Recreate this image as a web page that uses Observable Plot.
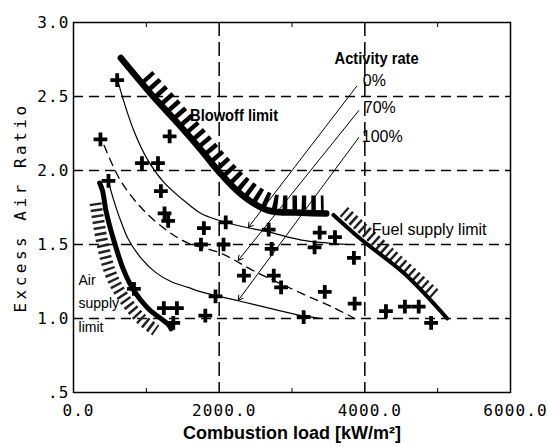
<!DOCTYPE html>
<html>
<head>
<meta charset="utf-8">
<script src="https://cdn.jsdelivr.net/npm/d3@7"></script>
<script src="https://cdn.jsdelivr.net/npm/@observablehq/plot@0.6"></script>
<style>
  html, body { margin: 0; padding: 0; background: #fff; }
  #chart svg { display: block; }
  [aria-label="y-axis tick label"] text, [aria-label="x-axis tick label"] text { letter-spacing: 1.1px; }
</style>
</head>
<body>
<div id="chart"></div>
<script>
// ---- axis ticks ----
const xTicks = [0, 2000, 4000, 6000];
const xTickLabels = ["0.0", "2000.0", "4000.0", "6000.0"];
const yTicks = [0.5, 1.0, 1.5, 2.0, 2.5, 3.0];
const yTickLabels = [".5", "1.0", "1.5", "2.0", "2.5", "3.0"];
const xMinorTicks = [1000, 3000, 5000];
const xGrid = [2000, 4000];
const yGrid = [1.0, 1.5, 2.0, 2.5];

// ---- measured points (+) ----
const pointX = [600, 370, 1320, 940, 1160, 480, 1200, 1250, 1300, 1790, 2090, 1750, 2060, 2680, 2720, 3310, 3380, 3590, 3850,
                2340, 2750, 2850, 3450, 3860, 1950, 1810, 830, 1240, 1420, 1370, 3160, 4290, 4550, 4740, 4910];
const pointY = [2.61, 2.21, 2.23, 2.05, 2.05, 1.93, 1.86, 1.71, 1.66, 1.61, 1.65, 1.50, 1.50, 1.60, 1.47, 1.48, 1.58, 1.55, 1.41,
                1.29, 1.29, 1.21, 1.18, 1.10, 1.15, 1.02, 1.20, 1.07, 1.07, 0.97, 1.01, 1.05, 1.08, 1.08, 0.97];

// ---- limit curves ----
const blowoffX = [650, 1060, 1430, 1750, 2000, 2300, 2670, 3130, 3470];
const blowoffY = [2.76, 2.52, 2.32, 2.14, 1.99, 1.84, 1.73, 1.715, 1.71];
const blowoffHatchX = [1000, 1505, 1822, 2070, 2360, 2710, 3130, 3434];
const blowoffHatchY = [2.636, 2.359, 2.177, 2.035, 1.893, 1.790, 1.777, 1.777];

const fuelX = [3570, 3960, 4550, 5130];
const fuelY = [1.70, 1.53, 1.30, 1.00];
const fuelHatchX = [3710, 4344, 4978];
const fuelHatchY = [1.723, 1.44, 1.155];

const airX = [359, 400, 445, 552, 690, 827, 1020, 1300, 1340];
const airY = [1.915, 1.86, 1.73, 1.53, 1.325, 1.19, 1.07, 0.96, 0.93];
const airHatchX = [303, 400, 510, 676, 924, 1131];
const airHatchY = [1.78, 1.50, 1.304, 1.149, 1.0, 0.919];

// ---- activity-rate curves ----
const rate0X = [607, 676, 827, 1020, 1241, 1570, 1751, 2200, 2675, 3130, 3780];
const rate0Y = [2.61, 2.49, 2.27, 2.07, 1.92, 1.775, 1.71, 1.635, 1.585, 1.53, 1.50];
const rate70X = [420, 648, 965, 1296, 1572, 2027, 2482, 3130, 3586, 3862];
const rate70Y = [2.17, 1.93, 1.73, 1.59, 1.51, 1.44, 1.32, 1.17, 1.07, 1.00];
const rate100X = [483, 552, 648, 758, 924, 1131, 1338, 1572, 1751, 2261, 2855, 3130, 3406];
const rate100Y = [1.92, 1.80, 1.66, 1.53, 1.41, 1.31, 1.25, 1.21, 1.18, 1.12, 1.05, 1.02, 1.00];

// ---- leader arrows ----
const arrowX1 = [3889, 3917, 3917];
const arrowY1 = [2.57, 2.405, 2.223];
const arrowX2 = [2400, 2261, 2261];
const arrowY2 = [1.615, 1.392, 1.122];

// ---- annotations ----
const boldLabels = ["Blowoff limit", "Activity rate"];
const boldLabelX = [1600, 3585];
const boldLabelY = [2.372, 2.757];
const rateLabels = ["0%", "70%", "100%"];
const rateLabelX = [3972, 3985, 3958];
const rateLabelY = [2.608, 2.426, 2.23];
const fuelLabel = ["Fuel supply limit"];
const fuelLabelX = [4096];
const fuelLabelY = [1.60];
const airLabels = ["Air", "supply", "limit"];
const airLabelX = [69, 69, 69];
const airLabelY = [1.257, 1.101, 0.939];
const xTitle = ["Combustion load [kW/m²]"];
const yTitle = ["Excess Air Ratio"];
// condensed widths (px) of the narrow-set bold labels
const condensedText = ["Blowoff limit", "Activity rate"];
const condensedWidth = [88, 84];

const rows = (xs, ys) => xs.map((x, i) => ({x, y: ys[i]}));
const mono = "'DejaVu Sans Mono', 'Liberation Mono', monospace";
const sans = "'Liberation Sans', Arial, sans-serif";

const arrows = arrowX1.map((x1, i) => ({x1, y1: arrowY1[i], x2: arrowX2[i], y2: arrowY2[i]}));
const lbl = (t, xs, ys) => t.map((text, i) => ({text, x: xs[i], y: ys[i]}));

const chart = Plot.plot({
  width: 548,
  height: 447,
  marginLeft: 73,
  marginRight: 38,
  marginTop: 22,
  marginBottom: 55,
  style: {background: "#fff", color: "#000", fontFamily: sans},
  x: {domain: [0, 6000]},
  y: {domain: [0.5, 3.0]},
  marks: [
    // grid
    Plot.ruleX(xGrid, {stroke: "#000", strokeWidth: 1.5, strokeDasharray: "14,6"}),
    Plot.ruleY(yGrid, {stroke: "#000", strokeWidth: 1.5, strokeDasharray: "10,6"}),
    // hatching
    Plot.line(rows(blowoffHatchX, blowoffHatchY), {x: "x", y: "y", curve: "catmull-rom", stroke: "#000", strokeWidth: 16, strokeDasharray: "4.5,5", strokeLinecap: "butt"}),
    Plot.line(rows(fuelHatchX, fuelHatchY), {x: "x", y: "y", curve: "catmull-rom", stroke: "#222", strokeWidth: 12, strokeDasharray: "2.5,3.5", strokeLinecap: "butt"}),
    Plot.line(rows(airHatchX, airHatchY), {x: "x", y: "y", curve: "catmull-rom", stroke: "#222", strokeWidth: 12, strokeDasharray: "2.5,3.5", strokeLinecap: "butt"}),
    // limit lines
    Plot.line(rows(blowoffX, blowoffY), {x: "x", y: "y", curve: "catmull-rom", stroke: "#000", strokeWidth: 6.5, strokeLinecap: "round"}),
    Plot.line(rows(fuelX, fuelY), {x: "x", y: "y", curve: "catmull-rom", stroke: "#000", strokeWidth: 4}),
    Plot.line(rows(airX, airY), {x: "x", y: "y", curve: "catmull-rom", stroke: "#000", strokeWidth: 5, strokeLinecap: "round"}),
    // activity-rate curves
    Plot.line(rows(rate0X, rate0Y), {x: "x", y: "y", curve: "catmull-rom", stroke: "#000", strokeWidth: 1.2}),
    Plot.line(rows(rate70X, rate70Y), {x: "x", y: "y", curve: "catmull-rom", stroke: "#000", strokeWidth: 1.3, strokeDasharray: "8,6"}),
    Plot.line(rows(rate100X, rate100Y), {x: "x", y: "y", curve: "catmull-rom", stroke: "#000", strokeWidth: 1.2}),
    // arrows
    Plot.arrow(arrows, {x1: "x1", y1: "y1", x2: "x2", y2: "y2", stroke: "#000", strokeWidth: 1, headLength: 8}),
    // points
    Plot.dot(rows(pointX, pointY), {x: "x", y: "y", symbol: "plus", r: 4.5, stroke: "#000", strokeWidth: 3.8}),
    // frame and axes
    Plot.frame({stroke: "#000", strokeWidth: 1.5}),
    Plot.axisX({ticks: xTicks, tickFormat: d => xTickLabels[xTicks.indexOf(d)], tickSize: 0, tickPadding: 12, dx: 5, label: null, fontFamily: mono, fontSize: 16}),
    Plot.axisY({ticks: yTicks, tickFormat: d => yTickLabels[yTicks.indexOf(d)], tickSize: 0, tickPadding: 4, label: null, fontFamily: mono, fontSize: 16}),
    Plot.axisX({ticks: xMinorTicks, anchor: "bottom", tickSize: -4, tickFormat: () => "", label: null}),
    Plot.axisX({ticks: xMinorTicks, anchor: "top", tickSize: -4, tickFormat: () => "", label: null}),
    // titles
    Plot.text(xTitle, {frameAnchor: "bottom", dy: 46, fontSize: 18, fontWeight: "bold", fontFamily: sans}),
    Plot.text(yTitle, {frameAnchor: "left", textAnchor: "middle", dx: -53, rotate: -90, fontSize: 16, fontFamily: mono}),
    // annotations
    Plot.text(lbl(boldLabels, boldLabelX, boldLabelY), {x: "x", y: "y", text: "text", textAnchor: "start", fontSize: 16, fontWeight: "bold", fontFamily: sans}),
    Plot.text(lbl(rateLabels, rateLabelX, rateLabelY), {x: "x", y: "y", text: "text", textAnchor: "start", fontSize: 16, fontFamily: sans}),
    Plot.text(lbl(fuelLabel, fuelLabelX, fuelLabelY), {x: "x", y: "y", text: "text", textAnchor: "start", fontSize: 16, fontFamily: sans}),
    Plot.text(lbl(airLabels, airLabelX, airLabelY), {x: "x", y: "y", text: "text", textAnchor: "start", fontSize: 14, fontFamily: sans})
  ]
});

d3.select(chart).selectAll("text").each(function() {
  const t = this.textContent;
  if (t === yTitle[0]) d3.select(this).style("letter-spacing", "3.5px");
  const k = condensedText.indexOf(t);
  if (k >= 0) {
    d3.select(this).attr("textLength", condensedWidth[k]).attr("lengthAdjust", "spacingAndGlyphs");
  }
});
document.getElementById("chart").appendChild(chart);
</script>
</body>
</html>
